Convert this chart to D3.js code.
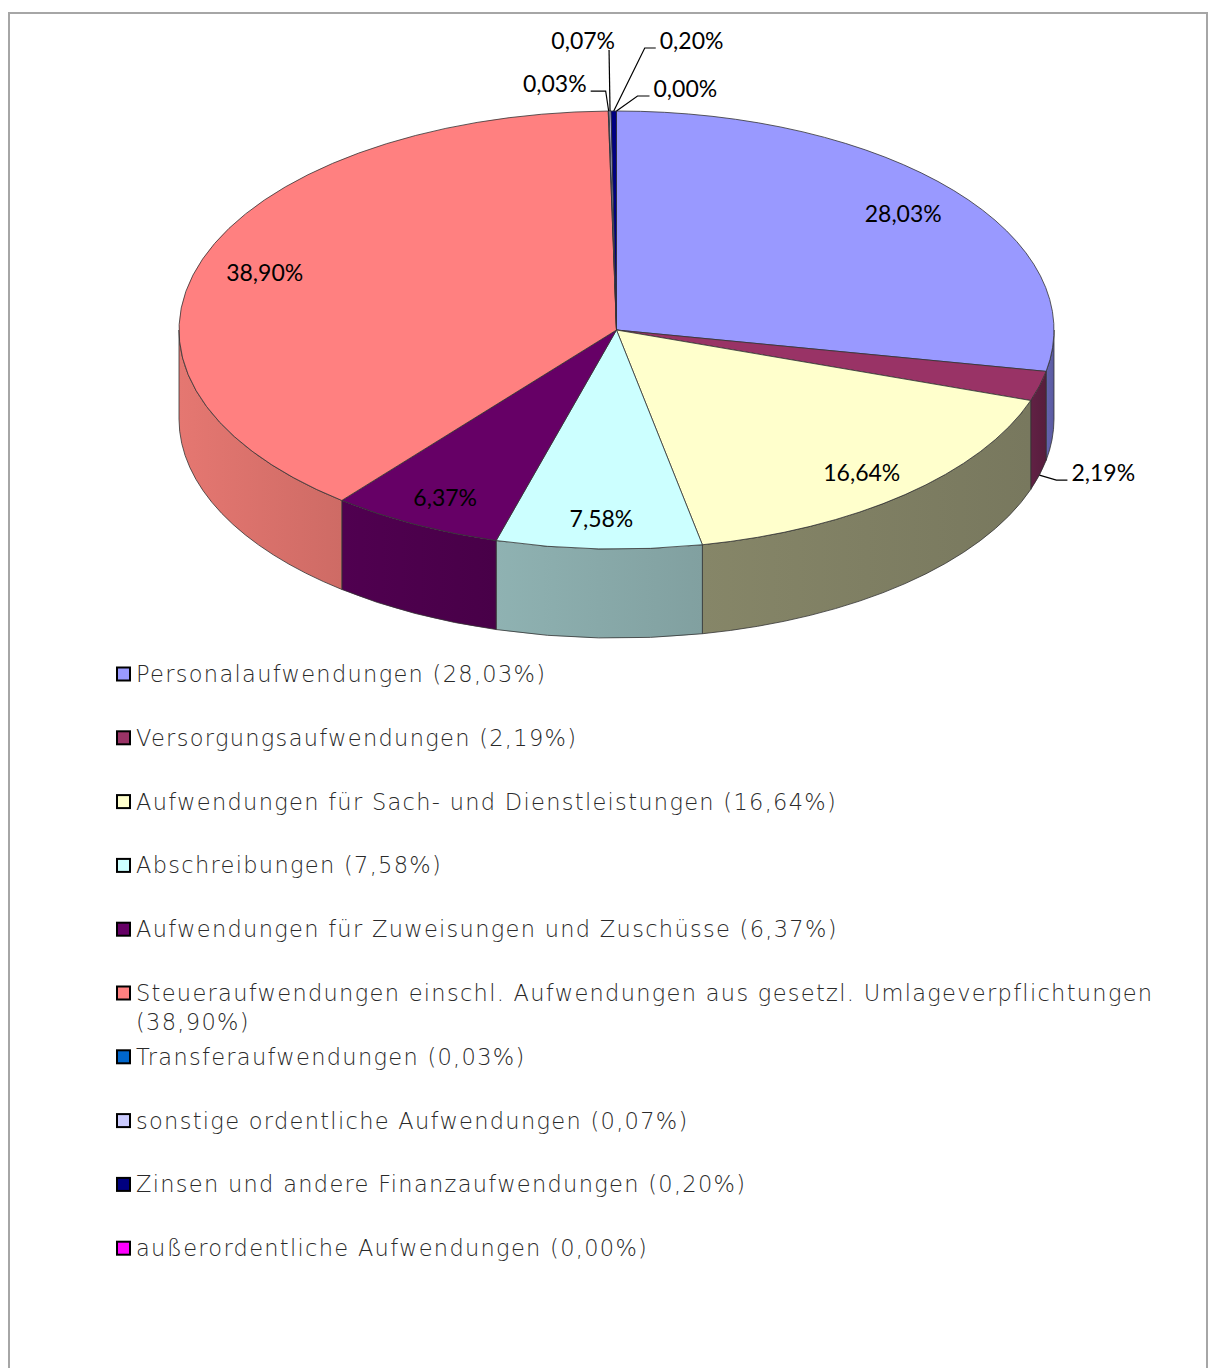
<!DOCTYPE html>
<html><head><meta charset="utf-8">
<script src="https://cdn.jsdelivr.net/npm/d3@7"></script>
<style>
html,body{margin:0;padding:0;background:#fff;}
svg{display:block;}
</style></head>
<body>
<svg id="chart" width="1208" height="1368"></svg>
<script>
const categories = [
  "Personalaufwendungen",
  "Versorgungsaufwendungen",
  "Aufwendungen für Sach- und Dienstleistungen",
  "Abschreibungen",
  "Aufwendungen für Zuweisungen und Zuschüsse",
  "Steueraufwendungen einschl. Aufwendungen aus gesetzl. Umlageverpflichtungen",
  "Transferaufwendungen",
  "sonstige ordentliche Aufwendungen",
  "Zinsen und andere Finanzaufwendungen",
  "außerordentliche Aufwendungen"
];
const values = [28.03, 2.19, 16.64, 7.58, 6.37, 38.90, 0.03, 0.07, 0.20, 0.00];
const labels = ["28,03%","2,19%","16,64%","7,58%","6,37%","38,90%","0,03%","0,07%","0,20%","0,00%"];
const topColors  = ["#9999FF","#993366","#FFFFCC","#CCFFFF","#660066","#FF8080","#0066CC","#CCCCFF","#000080","#FF00FF"];
const sideColors = ["#5F5FA8","#5C1F40","#7F7F63","#88A9A9","#4C004C","#D9716B","#004C99","#9A9AC0","#000060","#B000B0"];

// label layout: inside labels (true) or outside with leader lines
const outside = [false,true,false,false,false,false,true,true,true,true];
// leader geometry for outside labels: [anchor ("top"/"bottom"), elbow dx, elbow dy, horizontal len, text anchor]
const leaders = {
  1: ["bottom", 17, 5, 11, "start"],
  6: ["top", -3, -20, -15, "end"],
  7: ["top", -1, -61, 0, "end"],
  8: ["top", 31, -63, 11, "start"],
  9: ["top", 21, -15, 12, "start"]
};

const svg = d3.select("#chart");

// frame
svg.append("rect").attr("x",9).attr("y",13).attr("width",1198).attr("height",1400)
  .attr("fill","#fff").attr("stroke","#a6a6a6").attr("stroke-width",2);

const cx = 616.5, cy = 330, rx = 437.5, ry = 219, depth = 89;
const pie = d3.pie().sort(null).value(d => d).startAngle(0).endAngle(2*Math.PI);
const arcs = pie(values);

const px = a => cx + rx*Math.sin(a);
const py = a => cy - ry*Math.cos(a);

const defs = svg.append("defs");
const g = svg.append("g");

// side walls (front half only)
arcs.forEach((d,i) => {
  const s = Math.max(d.startAngle, Math.PI/2), e = Math.min(d.endAngle, 3*Math.PI/2);
  if (s >= e) return;
  const large = (e - s) > Math.PI ? 1 : 0;
  const path = `M${px(s)},${py(s)} A${rx},${ry} 0 ${large} 1 ${px(e)},${py(e)} L${px(e)},${py(e)+depth} A${rx},${ry} 0 ${large} 0 ${px(s)},${py(s)+depth} Z`;
  const gid = "side"+i;
  const grad = defs.append("linearGradient").attr("id",gid)
    .attr("gradientUnits","userSpaceOnUse").attr("x1",px(e)).attr("x2",px(s)).attr("y1",0).attr("y2",0);
  const base = d3.color(sideColors[i]);
  grad.append("stop").attr("offset","0%").attr("stop-color", base.brighter(0.15));
  grad.append("stop").attr("offset","100%").attr("stop-color", base.darker(0.15));
  g.append("path").attr("d",path).attr("fill",`url(#${gid})`)
    .attr("stroke","#333").attr("stroke-width",0.8).attr("stroke-linejoin","round");
});

// top faces
arcs.forEach((d,i) => {
  const a0 = d.startAngle, a1 = d.endAngle;
  if (a1 - a0 <= 0) return;
  const large = (a1 - a0) > Math.PI ? 1 : 0;
  const path = `M${cx},${cy} L${px(a0)},${py(a0)} A${rx},${ry} 0 ${large} 1 ${px(a1)},${py(a1)} Z`;
  g.append("path").attr("d",path).attr("fill",topColors[i])
    .attr("stroke","#333").attr("stroke-width",0.8).attr("stroke-linejoin","round");
});

// labels
const lab = svg.append("g").attr("font-family","Lato, 'Open Sans', sans-serif").attr("font-size",23).attr("fill","#000");
arcs.forEach((d,i) => {
  const mid = (d.startAngle + d.endAngle)/2;
  if (!outside[i]) {
    lab.append("text").attr("x", cx + 0.85*rx*Math.sin(mid)).attr("y", cy - 0.85*ry*Math.cos(mid) + 2)
      .attr("text-anchor","middle").attr("dominant-baseline","central").text(labels[i]);
  } else {
    const [anc, dx, dy, hl, ta] = leaders[i];
    const x0 = px(mid), y0 = py(mid) + (anc === "bottom" ? depth : 0);
    const x1 = x0 + dx, y1 = y0 + dy, x2 = x1 + hl;
    lab.append("path").attr("d",`M${x0},${y0} L${x1},${y1} L${x2},${y1}`)
      .attr("fill","none").attr("stroke","#000").attr("stroke-width",1.2);
    let tx, ty;
    if (i === 7) { tx = x1 + 6; ty = y1 - 10; }
    else { tx = x2 + (ta === "start" ? 4 : -4); ty = y1 - 8; }
    lab.append("text").attr("x",tx).attr("y",ty).attr("text-anchor",ta)
      .attr("dominant-baseline","central").text(labels[i]);
  }
});

// legend
const leg = svg.append("g").attr("font-family","'DejaVu Sans', sans-serif").attr("font-size",22.5)
  .attr("font-weight",300).attr("fill","#2a2a2a");
const legY0 = 674, legStep = 63.8, maxW = 1040;
categories.forEach((c,i) => {
  const y = legY0 + i*legStep;
  leg.append("rect").attr("x",117).attr("y",y-6.5).attr("width",13).attr("height",13)
    .attr("fill",topColors[i]).attr("stroke","#000").attr("stroke-width",2);
  const full = `${c} (${labels[i]})`;
  const t = leg.append("text").attr("x",136).attr("y",y).attr("dominant-baseline","central")
    .attr("letter-spacing",1.3).text(full);
  if (t.node().getComputedTextLength() > maxW) {
    const words = full.split(" ");
    t.text(null);
    let line = [], lines = [];
    const tmp = t.append("tspan");
    words.forEach(w => {
      line.push(w);
      tmp.text(line.join(" "));
      if (tmp.node().getComputedTextLength() > maxW && line.length > 1) {
        line.pop(); lines.push(line.join(" ")); line = [w];
      }
    });
    lines.push(line.join(" "));
    tmp.remove();
    lines.forEach((l,k) => t.append("tspan").attr("x",136).attr("dy", k ? 29 : 0).text(l));
  }
});
</script>
</body></html>
